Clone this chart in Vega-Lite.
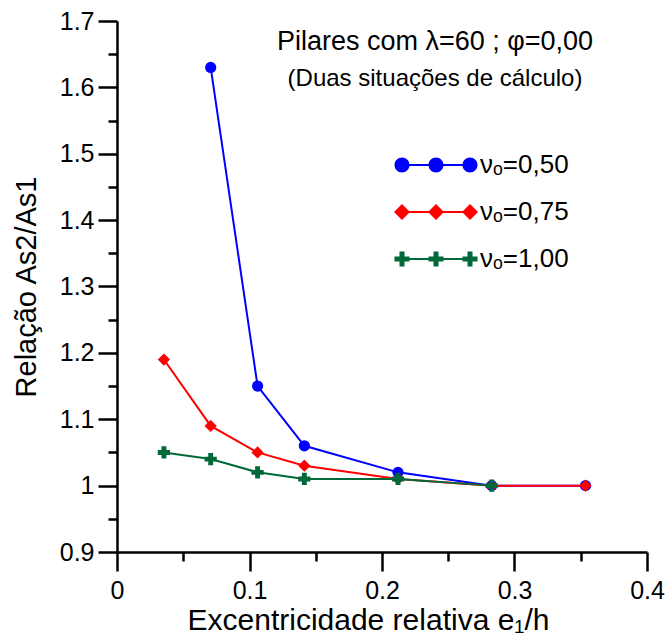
{
  "$schema": "https://vega.github.io/schema/vega-lite/v6.json",
  "width": 530,
  "height": 531,
  "autosize": {"type": "none"},
  "padding": {"left": 117, "top": 21, "right": 20, "bottom": 83},
  "background": "white",
  "title": {
    "text": "Pilares com λ=60 ; φ=0,00",
    "subtitle": "(Duas situações de cálculo)",
    "anchor": "middle",
    "frame": "group",
    "orient": "top",
    "offset": -83,
    "dx": 53,
    "font": "Liberation Sans",
    "fontSize": 27,
    "fontWeight": "normal",
    "color": "black",
    "subtitleFont": "Liberation Sans",
    "subtitleFontSize": 24,
    "subtitleColor": "black",
    "subtitlePadding": 11
  },
  "config": {
    "view": {"stroke": null},
    "font": "Liberation Sans",
    "axis": {
      "grid": false,
      "domainColor": "black",
      "domainWidth": 2.5,
      "tickColor": "black",
      "tickWidth": 2.5,
      "tickSize": 19,
      "labelFont": "Liberation Sans",
      "labelFontSize": 25,
      "labelColor": "black",
      "titleFont": "Liberation Sans",
      "titleFontWeight": "normal",
      "titleColor": "black",
      "labelFlush": false,
      "labelOverlap": false
    }
  },
  "datasets": {
    "series": [
      {"serie": "0,50", "x": 0.0707, "y": 1.63},
      {"serie": "0,50", "x": 0.1061, "y": 1.15},
      {"serie": "0,50", "x": 0.1414, "y": 1.06},
      {"serie": "0,50", "x": 0.2121, "y": 1.02},
      {"serie": "0,50", "x": 0.2828, "y": 1.0},
      {"serie": "0,50", "x": 0.3536, "y": 1.0},
      {"serie": "0,75", "x": 0.0354, "y": 1.19},
      {"serie": "0,75", "x": 0.0707, "y": 1.09},
      {"serie": "0,75", "x": 0.1061, "y": 1.05},
      {"serie": "0,75", "x": 0.1414, "y": 1.03},
      {"serie": "0,75", "x": 0.2121, "y": 1.01},
      {"serie": "0,75", "x": 0.2828, "y": 1.0},
      {"serie": "0,75", "x": 0.3536, "y": 1.0},
      {"serie": "1,00", "x": 0.0354, "y": 1.05},
      {"serie": "1,00", "x": 0.0707, "y": 1.04},
      {"serie": "1,00", "x": 0.1061, "y": 1.02},
      {"serie": "1,00", "x": 0.1414, "y": 1.01},
      {"serie": "1,00", "x": 0.2121, "y": 1.01},
      {"serie": "1,00", "x": 0.2828, "y": 1.0}
    ]
  },
  "encoding": {
    "x": {
      "field": "x", "type": "quantitative",
      "scale": {"domain": [0, 0.4], "nice": false, "zero": false},
      "axis": {
        "title": "Excentricidade relativa e₁/h",
        "titleFontSize": 30,
        "titleX": 251,
        "titleAnchor": "middle",
        "titleAlign": "center",
        "values": [0, 0.05, 0.1, 0.15, 0.2, 0.25, 0.3, 0.35, 0.4],
        "labelExpr": "round(datum.value*20) % 2 == 0 ? format(datum.value, '~g') : ''",
        "tickDash": {"condition": {"test": "round(datum.value*20) % 2 == 1", "value": [9, 40]}, "value": [40, 1]},
        "labelPadding": 7,
        "titlePadding": 2
      }
    },
    "y": {
      "field": "y", "type": "quantitative",
      "scale": {"domain": [0.9, 1.7], "nice": false, "zero": false},
      "axis": {
        "title": "Relação As2/As1",
        "titleFontSize": 29,
        "values": [0.9, 0.95, 1, 1.05, 1.1, 1.15, 1.2, 1.25, 1.3, 1.35, 1.4, 1.45, 1.5, 1.55, 1.6, 1.65, 1.7],
        "labelExpr": "round(datum.value*20) % 2 == 0 ? format(datum.value, '~g') : ''",
        "tickDash": {"condition": {"test": "round(datum.value*20) % 2 == 1", "value": [9, 40]}, "value": [40, 1]},
        "labelPadding": 4,
        "titlePadding": 18
      }
    }
  },
  "layer": [
    {
      "data": {"name": "series"},
      "transform": [{"filter": "false"}],
      "mark": {"type": "point", "filled": true, "opacity": 1},
      "encoding": {
        "color": {
          "field": "serie", "type": "nominal",
          "scale": {"domain": ["0,50", "0,75", "1,00"], "range": ["#0000ff", "#ff0000", "#00693a"]},
          "legend": {
            "title": null,
            "orient": "none",
            "legendX": 306,
            "legendY": 131,
            "padding": 0,
            "symbolSize": 400,
            "symbolOpacity": 1,
            "symbolStrokeWidth": 0,
            "labelOffset": 31,
            "labelFont": "Liberation Sans",
            "labelFontSize": 26,
            "labelColor": "black",
            "rowPadding": 21,
            "labelExpr": "'νₒ=' + datum.label"
          }
        },
        "shape": {
          "field": "serie", "type": "nominal",
          "scale": {
            "domain": ["0,50", "0,75", "1,00"],
            "range": [
              "M-3.4 -0.1H3.4V0.1H-3.4ZM-4.15 0C-4.15 -0.414 -3.814 -0.75 -3.4 -0.75C-2.986 -0.75 -2.65 -0.414 -2.65 0C-2.65 0.414 -2.986 0.75 -3.4 0.75C-3.814 0.75 -4.15 0.414 -4.15 0ZM-0.75 0C-0.75 -0.414 -0.414 -0.75 0 -0.75C0.414 -0.75 0.75 -0.414 0.75 0C0.75 0.414 0.414 0.75 0 0.75C-0.414 0.75 -0.75 0.414 -0.75 0ZM2.65 0C2.65 -0.414 2.986 -0.75 3.4 -0.75C3.814 -0.75 4.15 -0.414 4.15 0C4.15 0.414 3.814 0.75 3.4 0.75C2.986 0.75 2.65 0.414 2.65 0Z",
              "M-3.4 -0.1H3.4V0.1H-3.4ZM-4.2 0L-3.4 -0.8L-2.6 0L-3.4 0.8ZM-0.8 0L0 -0.8L0.8 0L0 0.8ZM2.6 0L3.4 -0.8L4.2 0L3.4 0.8Z",
              "M-3.4 -0.1H3.4V0.1H-3.4ZM-4.15 -0.25H-3.65V-0.75H-3.15V-0.25H-2.65V0.25H-3.15V0.75H-3.65V0.25H-4.15ZM-0.75 -0.25H-0.25V-0.75H0.25V-0.25H0.75V0.25H0.25V0.75H-0.25V0.25H-0.75ZM2.65 -0.25H3.15V-0.75H3.65V-0.25H4.15V0.25H3.65V0.75H3.15V0.25H2.65Z"
            ]
          },
          "legend": {
            "title": null,
            "orient": "none",
            "legendX": 306,
            "legendY": 131,
            "padding": 0,
            "symbolSize": 400,
            "symbolOpacity": 1,
            "symbolStrokeWidth": 0,
            "labelOffset": 31,
            "labelFont": "Liberation Sans",
            "labelFontSize": 26,
            "labelColor": "black",
            "rowPadding": 21,
            "labelExpr": "'νₒ=' + datum.label"
          }
        }
      }
    },
    {
      "mark": {"type": "rule", "color": "black", "strokeWidth": 1.5, "strokeDash": [8, 6]},
      "encoding": {
        "y": {"datum": 1},
        "x": {"datum": 0},
        "x2": {"datum": 0.365}
      }
    },
    {
      "data": {"name": "series"},
      "transform": [{"filter": "datum.serie === '0,50'"}],
      "mark": {"type": "line", "strokeWidth": 2, "color": "#0000ff"}
    },
    {
      "data": {"name": "series"},
      "transform": [{"filter": "datum.serie === '0,50'"}],
      "mark": {"type": "point", "filled": true, "opacity": 1, "shape": "circle", "size": 125, "color": "#0000ff"}
    },
    {
      "data": {"name": "series"},
      "transform": [{"filter": "datum.serie === '0,75'"}],
      "mark": {"type": "line", "strokeWidth": 2, "color": "#ff0000"}
    },
    {
      "data": {"name": "series"},
      "transform": [{"filter": "datum.serie === '0,75'"}],
      "mark": {"type": "point", "filled": true, "opacity": 1, "shape": "diamond", "size": 150, "color": "#ff0000"}
    },
    {
      "data": {"name": "series"},
      "transform": [{"filter": "datum.serie === '1,00'"}],
      "mark": {"type": "line", "strokeWidth": 2, "color": "#00693a"}
    },
    {
      "data": {"name": "series"},
      "transform": [{"filter": "datum.serie === '1,00'"}],
      "mark": {"type": "point", "filled": true, "opacity": 1, "shape": "cross", "size": 150, "color": "#00693a"}
    }
  ]
}
